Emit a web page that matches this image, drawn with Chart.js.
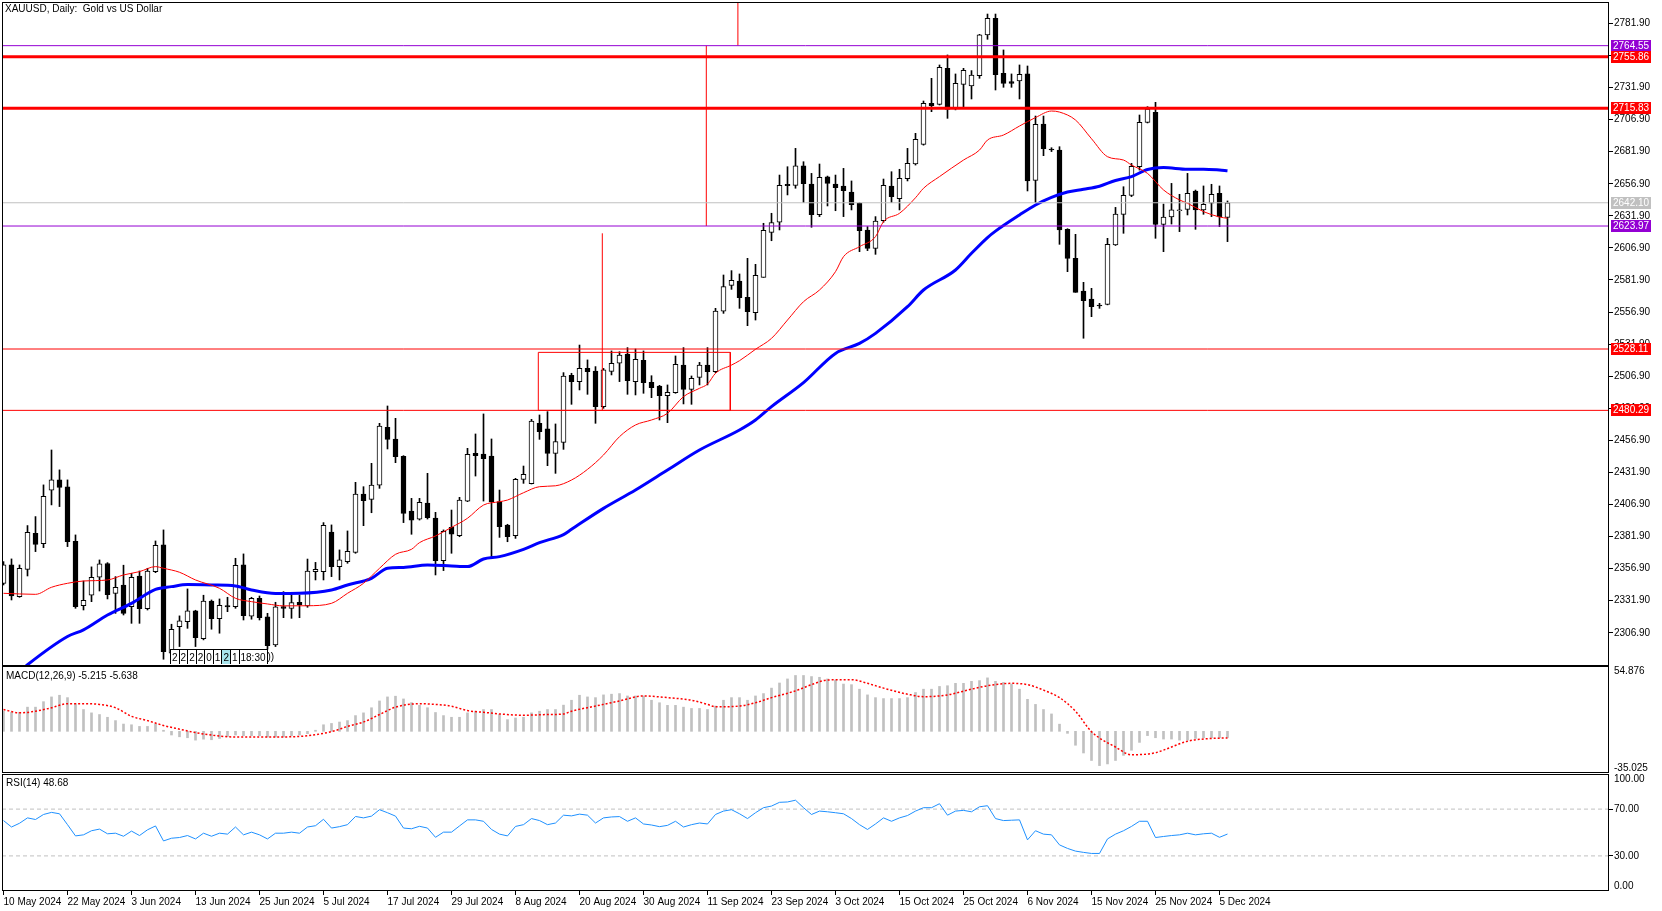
<!DOCTYPE html>
<html lang="en">
<head>
<meta charset="utf-8">
<title>XAUUSD, Daily</title>
<style>
  html, body { margin: 0; padding: 0; background: #fff; }
  body { width: 1662px; height: 911px; position: relative; overflow: hidden;
         font-family: 'Liberation Sans', Arial, sans-serif; font-size: 10px; color: #000; }
  canvas { position: absolute; left: 0; }
  #main-chart { top: 0; width: 1662px; height: 666px; }
  #macd-chart { top: 666px; width: 1662px; height: 107px; }
  #rsi-chart { top: 774px; width: 1662px; height: 137px; }
  .pane-label { position: absolute; left: 6px; white-space: pre; line-height: 12px; }
  #main-label { left: 5px; top: 3px; }
  #macd-label { top: 670px; }
  #rsi-label { top: 777px; }
  #trade-tags { position: absolute; left: 170px; top: 649px; display: flex; height: 15px; }
  #trade-tags span { border: 1px solid #000; border-right: none; border-bottom: none; padding: 0 1px;
                     height: 15px; line-height: 15px; background: #fff; box-sizing: border-box; }
  #trade-tags span.on { background: #a8e4ec; }
  #trade-tags span.tip { border-top: none; padding: 0; background: transparent; }
</style>
</head>
<body>
<canvas id="main-chart" width="1662" height="666"></canvas>
<canvas id="macd-chart" width="1662" height="107"></canvas>
<canvas id="rsi-chart" width="1662" height="137"></canvas>
<div class="pane-label" id="main-label">XAUUSD, Daily:  Gold vs US Dollar</div>
<div class="pane-label" id="macd-label">MACD(12,26,9) -5.215 -5.638</div>
<div class="pane-label" id="rsi-label">RSI(14) 48.68</div>
<div id="trade-tags"><span>2</span><span>2</span><span>2</span><span>2</span><span>0</span><span>1</span><span class="on">2</span><span>1</span><span>18:30</span><span class="tip">))</span></div>

<script src="https://cdn.jsdelivr.net/npm/chart.js@4.4.1/dist/chart.umd.min.js"></script>
<script>
// bar 0 = 10 May 2024, one bar per trading day, last bar = 6 Dec 2024
const candleOpen = [
  2345.5, 2359.8, 2335.1, 2356.4, 2384.5, 2376.4, 2418.0, 2426.1, 2420.6, 2378.3,
  2328.1, 2336.2, 2350.2, 2360.9, 2337.7, 2344.2, 2327.3, 2351.2, 2325.8, 2354.6,
  2375.4, 2291.0, 2311.7, 2315.6, 2324.0, 2302.4, 2331.7, 2318.0, 2328.1, 2327.3,
  2359.8, 2319.8, 2333.8, 2319.3, 2297.5, 2327.3, 2326.0, 2330.7, 2327.8, 2354.6,
  2354.6, 2385.5, 2358.5, 2362.4, 2369.6, 2415.1, 2410.9, 2421.9, 2467.1, 2458.0,
  2444.5, 2401.8, 2395.4, 2408.1, 2396.4, 2363.2, 2389.1, 2382.6, 2409.6, 2446.8,
  2446.3, 2444.7, 2409.1, 2390.9, 2382.6, 2426.5, 2423.1, 2470.2, 2465.8, 2446.8,
  2455.4, 2507.6, 2502.7, 2513.0, 2511.0, 2483.2, 2510.7, 2517.0, 2524.2, 2502.7,
  2519.3, 2502.2, 2499.3, 2491.8, 2494.1, 2515.6, 2496.7, 2506.0, 2515.6, 2510.5,
  2557.7, 2577.7, 2581.1, 2568.4, 2556.4, 2584.0, 2619.0, 2626.9, 2656.5, 2655.7,
  2670.8, 2656.7, 2632.8, 2662.4, 2656.7, 2655.2, 2650.5, 2641.7, 2620.9, 2606.6,
  2628.2, 2655.2, 2645.3, 2660.9, 2672.3, 2687.6, 2719.6, 2718.8, 2746.9, 2715.7,
  2734.4, 2733.1, 2741.2, 2772.9, 2785.8, 2743.0, 2736.5, 2737.0, 2742.5, 2659.6,
  2703.5, 2683.8, 2683.2, 2621.4, 2598.8, 2573.3, 2567.1, 2561.9, 2562.9, 2609.2,
  2633.1, 2647.9, 2670.2, 2704.8, 2712.6, 2625.3, 2631.0, 2635.9, 2637.0, 2651.3,
  2636.5, 2641.7, 2649.4, 2630.7
];
const candleHigh = [
  2362.4, 2364.5, 2359.8, 2390.5, 2397.5, 2422.2, 2449.4, 2433.9, 2426.1, 2383.2,
  2347.3, 2358.3, 2363.7, 2361.6, 2350.7, 2359.6, 2353.3, 2355.1, 2357.2, 2378.5,
  2387.1, 2313.6, 2320.1, 2341.1, 2324.5, 2336.2, 2332.5, 2333.3, 2334.6, 2365.0,
  2368.4, 2334.6, 2335.6, 2322.1, 2330.7, 2339.0, 2336.4, 2336.4, 2364.4, 2361.8,
  2392.8, 2391.0, 2371.5, 2386.3, 2424.2, 2420.8, 2439.0, 2470.2, 2483.7, 2474.1,
  2445.0, 2411.7, 2411.7, 2431.2, 2400.8, 2387.1, 2402.6, 2412.5, 2450.7, 2461.9,
  2477.5, 2458.0, 2418.2, 2391.5, 2427.3, 2436.9, 2473.3, 2476.7, 2479.3, 2469.7,
  2509.7, 2509.2, 2531.2, 2519.6, 2514.4, 2513.0, 2526.6, 2526.0, 2529.2, 2528.1,
  2526.6, 2507.3, 2499.8, 2500.1, 2522.7, 2529.2, 2507.1, 2517.7, 2529.2, 2559.8,
  2585.8, 2589.2, 2586.6, 2598.8, 2594.1, 2626.1, 2633.9, 2663.7, 2670.2, 2684.5,
  2674.1, 2665.0, 2672.3, 2662.9, 2663.7, 2668.9, 2659.1, 2642.2, 2623.5, 2631.3,
  2660.6, 2666.3, 2668.2, 2684.5, 2696.2, 2721.4, 2739.1, 2749.5, 2757.3, 2742.5,
  2746.9, 2745.1, 2773.4, 2789.2, 2789.2, 2761.2, 2742.5, 2749.5, 2748.7, 2709.7,
  2709.7, 2685.0, 2685.8, 2621.9, 2617.5, 2580.1, 2575.4, 2563.7, 2614.4, 2638.5,
  2654.6, 2672.8, 2710.5, 2717.0, 2720.4, 2641.1, 2657.2, 2648.7, 2665.0, 2652.0,
  2655.2, 2656.5, 2655.2, 2643.5
];
const candleLow = [
  2344.2, 2332.5, 2334.6, 2351.2, 2370.2, 2373.3, 2406.6, 2405.3, 2374.1, 2326.0,
  2324.7, 2331.2, 2339.5, 2333.3, 2322.1, 2320.8, 2314.3, 2314.3, 2324.7, 2353.8,
  2286.3, 2288.4, 2296.2, 2310.4, 2296.2, 2301.4, 2309.7, 2306.6, 2323.4, 2326.0,
  2316.9, 2317.5, 2316.9, 2294.1, 2296.2, 2318.7, 2318.2, 2318.7, 2326.8, 2348.1,
  2348.1, 2350.7, 2348.1, 2361.1, 2368.9, 2390.4, 2400.5, 2419.5, 2450.2, 2439.5,
  2392.8, 2383.7, 2394.8, 2395.6, 2352.0, 2355.4, 2368.9, 2381.8, 2409.1, 2429.1,
  2409.6, 2365.2, 2381.3, 2377.9, 2380.5, 2423.4, 2422.9, 2457.7, 2437.2, 2431.2,
  2449.9, 2485.0, 2496.2, 2492.8, 2470.2, 2481.9, 2507.9, 2502.7, 2492.8, 2492.3,
  2493.6, 2490.2, 2472.8, 2470.7, 2493.6, 2485.3, 2485.0, 2500.1, 2500.1, 2509.7,
  2555.9, 2574.6, 2559.8, 2546.3, 2550.7, 2584.0, 2612.5, 2620.9, 2648.2, 2653.4,
  2642.2, 2623.0, 2631.3, 2639.6, 2635.9, 2631.3, 2636.5, 2604.0, 2604.8, 2601.9,
  2626.9, 2642.2, 2636.5, 2659.1, 2671.5, 2687.0, 2713.1, 2718.3, 2707.9, 2714.5,
  2715.7, 2723.0, 2739.1, 2769.5, 2730.0, 2732.1, 2732.1, 2723.0, 2651.3, 2642.2,
  2678.8, 2682.0, 2609.7, 2588.4, 2572.3, 2536.5, 2553.3, 2559.8, 2562.5, 2608.8,
  2618.3, 2646.9, 2667.6, 2704.3, 2614.4, 2604.0, 2625.5, 2619.6, 2632.6, 2621.4,
  2633.1, 2631.3, 2623.5, 2611.8
];
const candleClose = [
  2359.8, 2335.6, 2357.2, 2385.3, 2375.9, 2413.3, 2426.1, 2420.3, 2378.0, 2327.3,
  2332.3, 2350.2, 2360.6, 2336.7, 2342.4, 2322.1, 2350.2, 2325.8, 2355.1, 2375.1,
  2292.3, 2309.7, 2316.2, 2324.0, 2303.2, 2331.7, 2318.0, 2328.4, 2327.1, 2359.6,
  2320.3, 2333.8, 2318.8, 2296.9, 2327.1, 2326.0, 2330.4, 2328.6, 2355.1, 2356.4,
  2390.7, 2358.5, 2363.7, 2370.4, 2415.1, 2409.9, 2422.1, 2468.1, 2457.7, 2444.2,
  2400.0, 2394.8, 2408.6, 2396.7, 2363.2, 2386.0, 2383.7, 2410.4, 2446.0, 2445.0,
  2442.6, 2408.9, 2389.6, 2381.8, 2426.5, 2430.4, 2472.0, 2463.7, 2446.8, 2455.9,
  2507.1, 2502.7, 2513.0, 2510.5, 2483.2, 2511.8, 2517.0, 2523.4, 2503.4, 2520.1,
  2501.9, 2498.0, 2491.8, 2494.3, 2516.2, 2496.7, 2505.3, 2515.6, 2510.5, 2557.7,
  2576.7, 2581.6, 2568.1, 2557.2, 2585.5, 2620.6, 2626.6, 2655.7, 2655.4, 2670.8,
  2657.0, 2632.8, 2661.9, 2657.2, 2653.9, 2651.5, 2640.6, 2620.4, 2606.6, 2627.9,
  2655.7, 2646.9, 2661.1, 2672.8, 2691.5, 2719.6, 2717.8, 2747.6, 2714.9, 2735.2,
  2745.3, 2741.7, 2773.0, 2785.8, 2741.9, 2735.2, 2735.2, 2742.2, 2659.1, 2703.2,
  2684.3, 2683.2, 2620.9, 2598.8, 2572.3, 2565.8, 2561.1, 2561.6, 2609.7, 2633.3,
  2647.9, 2670.5, 2704.8, 2715.2, 2625.3, 2631.0, 2636.5, 2636.5, 2649.4, 2636.5,
  2640.9, 2648.7, 2631.0, 2642.1
];

// moving averages at these bars
const maFastBars = [0, 4, 6, 8, 10, 13, 15, 17, 19, 20, 22, 24, 27, 29, 31, 33, 35, 38, 41, 43,
  45, 47, 49, 51, 52, 54, 56, 58, 60, 62, 63, 65, 67, 69, 71, 73, 75, 77, 79, 81,
  83, 85, 87, 88, 89, 91, 92, 94, 96, 98, 100, 102, 104, 105, 107, 109, 110, 112, 114, 115,
  117, 120, 122, 123, 125, 127, 129, 131, 132, 134, 136, 138, 140, 141, 143, 145, 147, 148, 150, 152, 153];
const maFastValues = [2337.7, 2336.9, 2342.4, 2345.5, 2347.3, 2348.1, 2352.0, 2354.6, 2358.5, 2357.2,
  2354.1, 2348.1, 2341.6, 2333.8, 2331.2, 2329.4, 2327.9, 2328.0, 2329.9, 2337.7,
  2345.5, 2357.2, 2368.1, 2372.0, 2377.2, 2382.4, 2389.1, 2396.2, 2406.5, 2409.1,
  2410.4, 2416.1, 2420.8, 2421.5, 2426.0, 2434.3, 2445.5, 2459.8, 2468.9, 2472.8,
  2478.0, 2491.0, 2497.5, 2500.8, 2509.2, 2515.6, 2519.0, 2527.9, 2536.4, 2550.7,
  2565.0, 2574.1, 2588.4, 2600.1, 2607.9, 2615.7, 2627.4, 2633.9, 2646.0, 2653.4,
  2662.5, 2675.4, 2683.2, 2691.0, 2694.9, 2701.9, 2708.5, 2713.6, 2712.8, 2706.6,
  2692.0, 2678.0, 2675.4, 2671.5, 2665.0, 2652.1, 2644.3, 2641.7, 2635.2, 2631.0, 2630.0];
const maSlowBars = [0, 3, 8, 10, 13, 16, 19, 21, 23, 26, 29, 31, 34, 37, 41, 43, 46, 48, 50, 53,
  56, 58, 60, 62, 65, 67, 70, 71, 75, 79, 83, 87, 92, 94, 96, 100, 104, 107, 109, 113,
  115, 119, 121, 123, 124, 127, 129, 131, 133, 135, 137, 139, 141, 143, 145, 148, 150, 152, 153];
const maSlowValues = [2266.0, 2282.0, 2304.0, 2309.2, 2320.8, 2329.9, 2340.8, 2342.9, 2344.5, 2344.2,
  2343.4, 2340.3, 2337.5, 2337.7, 2340.3, 2344.2, 2349.4, 2357.2, 2357.9, 2359.8,
  2359.0, 2358.5, 2364.4, 2366.3, 2372.0, 2377.2, 2383.5, 2387.6, 2403.9, 2418.2,
  2433.8, 2449.4, 2465.0, 2472.8, 2483.2, 2501.9, 2524.7, 2532.5, 2540.3, 2561.1,
  2574.1, 2589.7, 2602.7, 2615.0, 2620.0, 2632.6, 2640.4, 2646.3, 2650.5, 2652.6,
  2655.0, 2659.5, 2662.5, 2668.0, 2669.5, 2668.2, 2668.2, 2667.6, 2667.1];

const macdMain = [
  17.0, 16.0, 16.0, 20.3, 20.3, 24.9, 28.9, 30.3, 28.3, 23.2,
  18.3, 15.5, 14.1, 11.8, 9.0, 6.1, 5.5, 4.1, 4.1, 6.1,
  0.9, -3.1, -4.6, -5.4, -7.4, -6.6, -7.1, -6.0, -4.3, -3.1,
  -3.7, -3.7, -3.7, -4.8, -4.8, -4.8, -3.7, -3.1, -2.0, 0.9,
  5.5, 6.6, 7.8, 9.0, 13.2, 15.5, 19.8, 25.5, 28.9, 29.5,
  27.2, 24.1, 21.8, 19.8, 15.8, 13.2, 11.8, 11.8, 15.5, 16.9,
  18.3, 18.3, 14.1, 9.8, 11.2, 11.8, 15.5, 16.9, 18.3, 18.3,
  22.0, 26.1, 30.3, 28.9, 28.3, 30.6, 31.2, 31.7, 29.7, 29.7,
  29.7, 26.1, 24.0, 21.8, 21.8, 20.3, 19.2, 19.2, 18.3, 21.2,
  26.1, 28.3, 28.3, 26.1, 29.7, 31.7, 36.3, 40.6, 44.0, 46.9,
  46.9, 46.0, 45.4, 44.0, 43.1, 39.7, 39.2, 35.4, 30.6, 28.3,
  27.5, 27.5, 27.5, 28.3, 32.6, 35.4, 35.4, 37.7, 38.3, 40.3,
  40.3, 42.0, 42.6, 44.9, 42.0, 41.1, 39.7, 35.4, 26.9, 22.6,
  18.3, 14.6, 6.0, -1.7, -11.7, -18.2, -24.5, -28.8, -27.4, -24.5,
  -20.2, -15.9, -9.3, -3.6, -5.4, -6.5, -6.5, -7.4, -7.4, -6.0,
  -5.4, -5.4, -5.4, -5.2
];
const macdSignalBars = [0, 2, 4, 6, 8, 10, 12, 14, 16, 18, 20, 22, 24, 27, 29, 33, 37, 38, 41, 43,
  45, 47, 49, 52, 54, 56, 58, 60, 62, 65, 68, 70, 71, 74, 77, 80, 83, 86, 88, 89,
  92, 94, 96, 99, 101, 103, 106, 108, 110, 113, 115, 118, 121, 123, 126, 128, 130, 132, 134, 136,
  139, 141, 144, 146, 148, 151, 153];
const macdSignalValues = [18.3, 15.5, 16.9, 19.8, 23.2, 23.2, 22.6, 19.8, 12.6, 9.0,
  4.9, 1.8, -1.1, -4.0, -4.8, -4.8, -4.3, -3.7, -0.3, 4.1,
  7.8, 14.1, 20.3, 23.2, 22.6, 21.1, 17.4, 16.0, 14.6, 13.5,
  14.1, 14.6, 16.9, 21.2, 25.5, 29.7, 28.3, 26.1, 22.6, 20.6,
  21.2, 24.0, 28.3, 34.0, 39.2, 43.1, 43.4, 40.3, 36.3, 31.2,
  29.1, 30.6, 35.4, 38.3, 40.3, 39.2, 34.6, 28.3, 16.9, -0.3,
  -13.2, -19.7, -18.0, -13.2, -8.3, -6.0, -5.6];

const rsiValues = [
  60.2, 54.7, 57.9, 62.5, 61.1, 65.4, 67.2, 66.0, 56.7, 47.1,
  48.0, 51.5, 52.9, 48.9, 49.4, 46.8, 51.2, 47.4, 52.3, 55.6,
  42.8, 45.1, 45.7, 47.4, 44.5, 49.4, 46.8, 49.4, 48.6, 54.7,
  48.0, 50.3, 48.0, 44.5, 49.4, 49.4, 50.3, 49.4, 54.7, 55.8,
  61.3, 53.8, 55.0, 56.7, 63.7, 62.5, 64.0, 69.5, 66.9, 64.0,
  53.8, 53.2, 55.3, 53.8, 45.9, 50.3, 50.3, 55.6, 60.8, 60.8,
  59.6, 52.6, 48.6, 47.1, 55.2, 56.7, 61.9, 60.2, 56.7, 58.1,
  64.8, 64.2, 65.7, 64.8, 58.1, 62.5, 63.3, 63.6, 59.6, 62.5,
  57.3, 56.4, 55.0, 56.1, 59.6, 54.7, 56.7, 58.1, 57.3, 65.4,
  68.3, 69.5, 66.0, 61.9, 66.9, 71.2, 72.6, 75.8, 76.1, 77.6,
  71.2, 65.4, 68.3, 67.7, 66.9, 66.0, 61.9, 56.7, 52.6, 57.3,
  62.5, 59.6, 62.5, 64.5, 68.3, 71.2, 71.2, 74.6, 64.8, 68.3,
  68.9, 67.7, 72.0, 72.9, 61.9, 60.2, 60.5, 60.8, 43.7, 51.5,
  48.6, 48.0, 39.4, 36.4, 34.1, 33.0, 32.1, 32.1, 44.5, 48.6,
  51.5, 55.2, 59.6, 59.6, 45.7, 46.6, 47.4, 48.0, 49.4, 48.0,
  48.9, 49.4, 45.9, 48.68
];
const rsiLevels = [70, 30];

// one date label every 8 bars
const dateLabels = ['10 May 2024', '22 May 2024', '3 Jun 2024', '13 Jun 2024', '25 Jun 2024',
  '5 Jul 2024', '17 Jul 2024', '29 Jul 2024', '8 Aug 2024', '20 Aug 2024', '30 Aug 2024',
  '11 Sep 2024', '23 Sep 2024', '3 Oct 2024', '15 Oct 2024', '25 Oct 2024', '6 Nov 2024',
  '15 Nov 2024', '25 Nov 2024', '5 Dec 2024'];
const priceTicks = [2306.9, 2331.9, 2356.9, 2381.9, 2406.9, 2431.9, 2456.9, 2481.9, 2506.9, 2531.9,
  2556.9, 2581.9, 2606.9, 2631.9, 2656.9, 2681.9, 2706.9, 2731.9, 2756.9, 2781.9];
const macdTickText = ['54.876', '-35.025'];
const rsiTickText = ['100.00', '70.00', '30.00', '0.00'];

// drawn objects: price levels, zone box, vertical markers
const levelPrices = [2764.55, 2755.86, 2715.83, 2642.10, 2623.97, 2528.11, 2480.29];
const zoneBars = [66.85, 90.85];
const zonePrices = [2480.29, 2525.5];
const markerBars = [74.85, 87.85, 91.8];
const markerFrom = [2480.29, 2623.97, 2764.55];
const markerTo = [2618.3, 2764.55, 2800];

(function () {
  'use strict';

  const FONT = "'Liberation Sans', Arial, sans-serif";
  const AXIS_W = 53;
  const X_MIN = -0.1875;
  const X_MAX = 200.6875;
  const PRICE_MAX = 2798.58;
  const PRICE_MIN = 2281.04;
  const RED = '#FF0000';
  const PURPLE = '#9400D3';
  const SILVER = '#C0C0C0';
  const LEVEL_STYLE = [[PURPLE, 1], [RED, 3], [RED, 3], [SILVER, 1], [PURPLE, 1], [RED, 1], [RED, 1]];

  Chart.defaults.font.family = FONT;
  Chart.defaults.font.size = 10;
  Chart.defaults.color = '#000';

  const framePlugin = {
    id: 'frame',
    afterDraw(chart) {
      const a = chart.chartArea;
      const ctx = chart.ctx;
      ctx.save();
      ctx.strokeStyle = '#000';
      ctx.lineWidth = 1;
      ctx.strokeRect(a.left + 0.5, a.top + 0.5, a.right - a.left - 1, a.bottom - a.top - 1);
      ctx.restore();
    }
  };

  const badgePlugin = {
    id: 'priceBadges',
    afterDraw(chart) {
      const ctx = chart.ctx;
      const yScale = chart.scales.y;
      ctx.save();
      ctx.font = '10px ' + FONT;
      ctx.textBaseline = 'middle';
      levelPrices.forEach((p, k) => {
        const py = Math.round(yScale.getPixelForValue(p));
        ctx.fillStyle = LEVEL_STYLE[k][0];
        ctx.fillRect(yScale.left + 2, py - 6, 40, 12);
        ctx.fillStyle = '#fff';
        ctx.fillText(p.toFixed(2), yScale.left + 4, py + 0.5);
      });
      ctx.restore();
    }
  };

  function xAxis(show) {
    const axis = {
      type: 'linear', min: X_MIN, max: X_MAX, offset: false, display: show,
      grid: { offset: false, drawOnChartArea: false, tickLength: 4, color: '#000' },
      border: { display: false }
    };
    if (show) {
      axis.afterFit = function (scale) {
        scale.height = 20;
        scale.paddingLeft = 0;
        scale.paddingRight = 0;
      };
      axis.afterBuildTicks = function (scale) {
        scale.ticks = dateLabels.map((d, k) => ({ value: k * 8 }));
      };
      axis.ticks = {
        align: 'start', maxRotation: 0, minRotation: 0, autoSkip: false, padding: 1,
        callback: (v, i) => dateLabels[i]
      };
    }
    return axis;
  }

  function yAxis(min, max, tickValues, tickText, tickColor) {
    return {
      position: 'right', min: min, max: max, bounds: 'data',
      afterFit(scale) {
        scale.width = AXIS_W;
        scale.paddingTop = 0;
        scale.paddingBottom = 0;
      },
      afterBuildTicks(scale) {
        scale.ticks = tickValues.map(v => ({ value: v }));
      },
      ticks: { padding: 1, autoSkip: false, callback: (v, i) => tickText[i] },
      grid: { drawOnChartArea: false, tickLength: 4, color: '#000', tickColor: tickColor || '#000' },
      border: { display: false }
    };
  }

  function segment(points, color, width, order, dash) {
    return {
      type: 'line', data: points, borderColor: color, borderWidth: width,
      borderDash: dash || [], pointRadius: 0, tension: 0, order: order
    };
  }

  // smooth curve through the read-off points (MAs, signal)
  function curve(points, color, width, order, dash) {
    const ds = segment(points, color, width, order, dash);
    ds.cubicInterpolationMode = 'monotone';
    return ds;
  }

  function baseOptions(padding, xShow, y) {
    return {
      responsive: false, animation: false, events: [],
      layout: { padding: padding },
      plugins: { legend: { display: false }, tooltip: { enabled: false } },
      scales: { x: xAxis(xShow), y: y }
    };
  }

  // ---- price pane ----
  const priceSets = [];

  levelPrices.forEach((p, k) => {
    priceSets.push(segment([{ x: X_MIN, y: p }, { x: X_MAX, y: p }], LEVEL_STYLE[k][0], LEVEL_STYLE[k][1], 1));
  });
  markerBars.forEach((b, k) => {
    priceSets.push(segment([{ x: b, y: markerFrom[k] }, { x: b, y: markerTo[k] }], RED, 1, 1));
  });
  priceSets.push(segment([
    { x: zoneBars[0], y: zonePrices[0] }, { x: zoneBars[0], y: zonePrices[1] },
    { x: zoneBars[1], y: zonePrices[1] }, { x: zoneBars[1], y: zonePrices[0] },
    { x: zoneBars[0], y: zonePrices[0] }
  ], RED, 1, 1));

  priceSets.push(curve(maFastBars.map((b, k) => ({ x: b, y: maFastValues[k] })), RED, 1, 4));
  priceSets.push(curve(maSlowBars.map((b, k) => ({ x: b, y: maSlowValues[k] })), '#0000FF', 3, 5));

  priceSets.push({
    type: 'bar',
    data: candleHigh.map((h, i) => ({ x: i, y: [candleLow[i], h] })),
    backgroundColor: '#000', barThickness: 1, grouped: false, order: 10
  });
  priceSets.push({
    type: 'bar',
    data: candleOpen.map((o, i) => ({ x: i, y: [o, candleClose[i]] })),
    backgroundColor: c => (candleClose[c.dataIndex] >= candleOpen[c.dataIndex] ? '#fff' : '#000'),
    borderColor: '#000', borderWidth: 1, borderSkipped: false,
    barThickness: 5, minBarLength: 1, grouped: false, order: 9
  });

  new Chart(document.getElementById('main-chart'), {
    type: 'bar',
    data: { datasets: priceSets },
    options: baseOptions({ left: 2, top: 2, right: 0, bottom: 0 }, false,
      yAxis(PRICE_MIN, PRICE_MAX, priceTicks, priceTicks.map(v => v.toFixed(2)))),
    plugins: [framePlugin, badgePlugin]
  });

  // ---- MACD pane ----
  new Chart(document.getElementById('macd-chart'), {
    type: 'bar',
    data: {
      datasets: [
        {
          type: 'bar',
          data: macdMain.map((v, i) => ({ x: i, y: v })),
          backgroundColor: SILVER, barThickness: 2, order: 2
        },
        curve(macdSignalBars.map((b, k) => ({ x: b, y: macdSignalValues[k] })), RED, 1.5, 1, [2, 2])
      ]
    },
    options: baseOptions({ left: 2, top: 0, right: 0, bottom: 0 }, false,
      yAxis(-35.025, 54.876, [50.7, -30.8], macdTickText, 'rgba(0,0,0,0)')),
    plugins: [framePlugin]
  });

  // ---- RSI pane ----
  const rsiSets = rsiLevels.map(v => segment([{ x: X_MIN, y: v }, { x: X_MAX, y: v }], SILVER, 1, 2, [4, 3]));
  rsiSets.push(segment(rsiValues.map((v, i) => ({ x: i, y: v })), '#1E90FF', 1, 1));

  new Chart(document.getElementById('rsi-chart'), {
    type: 'line',
    data: { datasets: rsiSets },
    options: baseOptions({ left: 2, top: 0, right: 0, bottom: 0 }, true,
      yAxis(0, 100, [95.7, 70, 30, 4.3], rsiTickText,
        c => (c.tick && (c.tick.value === 70 || c.tick.value === 30) ? '#000' : 'rgba(0,0,0,0)'))),
    plugins: [framePlugin]
  });
})();
</script>
</body>
</html>
